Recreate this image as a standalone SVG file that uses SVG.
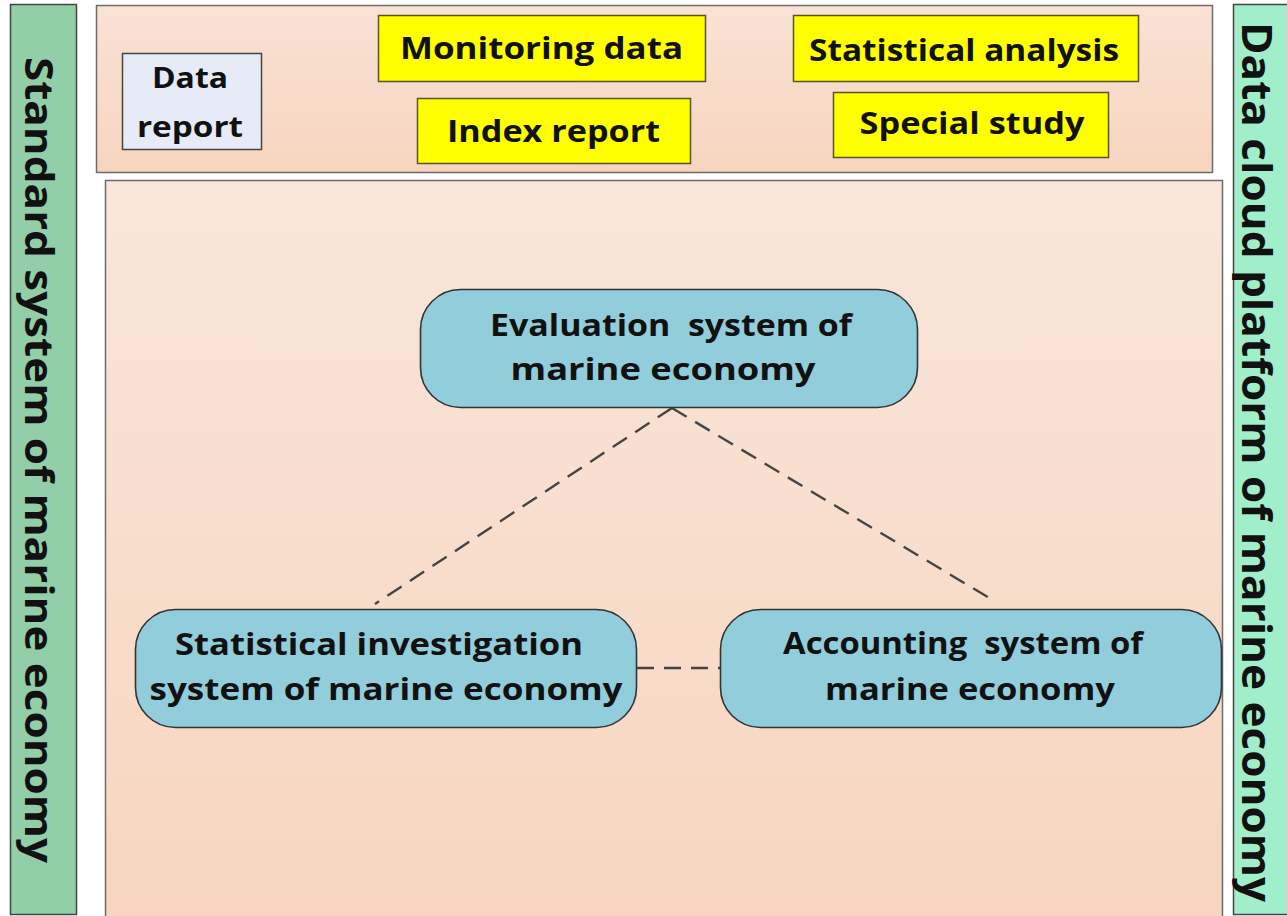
<svg xmlns="http://www.w3.org/2000/svg" width="1287" height="916" viewBox="0 0 1287 916">
<defs>
<linearGradient id="gTop" x1="0" y1="0" x2="0" y2="1"><stop offset="0" stop-color="#f9e2d5"/><stop offset="1" stop-color="#f7d5bf"/></linearGradient>
<linearGradient id="gMain" x1="0" y1="0" x2="0" y2="1"><stop offset="0" stop-color="#f9e6db"/><stop offset="1" stop-color="#f7d5be"/></linearGradient>
<style>
text{font-family:"Open Sans","Noto Sans","Liberation Sans",sans-serif;font-weight:bold;fill:#111;}
.c{text-anchor:middle;}
.sys{fill:#92cddc;stroke:#333;stroke-width:1.6;}
.yel{fill:#ffff00;stroke:#55552a;stroke-width:1.5;}
.t32{font-size:31px;}
.t30{font-size:29px;}
.conn{stroke:#444;stroke-width:2.4;stroke-dasharray:17 10;fill:none;}
</style>
</defs>
<rect width="1287" height="916" fill="#ffffff"/>
<g id="left-bar">
<rect x="10.5" y="4.5" width="66" height="910" fill="#92cfa9" stroke="#444" stroke-width="1.5"/>
<text transform="translate(25,57) rotate(90)" font-size="39" textLength="806" lengthAdjust="spacingAndGlyphs">Standard system of marine economy</text>
</g>
<g id="right-bar">
<rect x="1233.5" y="4.5" width="60" height="910" fill="#a0efca" stroke="#444" stroke-width="1.5"/>
<text transform="translate(1242,22) rotate(90)" font-size="42" textLength="880" lengthAdjust="spacingAndGlyphs">Data cloud platform of marine economy</text>
</g>
<g id="top-panel">
<rect x="96.5" y="5.5" width="1116" height="167" fill="url(#gTop)" stroke="#6b6b6b" stroke-width="1.5"/>
</g>
<g id="main-panel">
<rect x="105.5" y="180.5" width="1117" height="740" fill="url(#gMain)" stroke="#6b6b6b" stroke-width="1.5"/>
</g>
<g id="data-report">
<rect x="122.5" y="53.5" width="139" height="96" fill="#e6ebf7" stroke="#444" stroke-width="1.5"/>
<text class="c t30" x="190" y="88" textLength="76" lengthAdjust="spacingAndGlyphs">Data</text>
<text class="c t30" x="190" y="137" textLength="106" lengthAdjust="spacingAndGlyphs">report</text>
</g>
<g id="monitoring-data">
<rect class="yel" x="378.5" y="15.5" width="327" height="66"/>
<text class="c t32" x="541.5" y="59" textLength="283" lengthAdjust="spacingAndGlyphs">Monitoring data</text>
</g>
<g id="index-report">
<rect class="yel" x="417.5" y="98.5" width="273" height="65"/>
<text class="c t32" x="553.5" y="142" textLength="213" lengthAdjust="spacingAndGlyphs">Index report</text>
</g>
<g id="statistical-analysis">
<rect class="yel" x="793.5" y="15.5" width="345" height="66"/>
<text class="c t32" x="964" y="61" textLength="310" lengthAdjust="spacingAndGlyphs">Statistical analysis</text>
</g>
<g id="special-study">
<rect class="yel" x="833.5" y="92.5" width="275" height="65"/>
<text class="c t32" x="972" y="134" textLength="225" lengthAdjust="spacingAndGlyphs">Special study</text>
</g>
<g id="connectors">
<line class="conn" x1="672" y1="408" x2="375" y2="604"/>
<line class="conn" x1="672" y1="408" x2="996" y2="602"/>
<line class="conn" x1="637" y1="668" x2="720" y2="668"/>
</g>
<g id="evaluation">
<rect class="sys" x="420.5" y="289.5" width="497" height="118" rx="40"/>
<text class="c t32" x="671" y="336" textLength="362" lengthAdjust="spacingAndGlyphs" xml:space="preserve">Evaluation  system of</text>
<text class="c t32" x="663" y="380" textLength="305" lengthAdjust="spacingAndGlyphs">marine economy</text>
</g>
<g id="statistical-investigation">
<rect class="sys" x="135.5" y="609.5" width="501" height="118" rx="40"/>
<text class="c t32" x="379" y="655" textLength="408" lengthAdjust="spacingAndGlyphs">Statistical investigation</text>
<text class="c t32" x="386" y="700" textLength="473" lengthAdjust="spacingAndGlyphs">system of marine economy</text>
</g>
<g id="accounting">
<rect class="sys" x="720.5" y="609.5" width="501" height="118" rx="40"/>
<text class="c t32" x="963" y="654" textLength="360" lengthAdjust="spacingAndGlyphs" xml:space="preserve">Accounting  system of</text>
<text class="c t32" x="970" y="700" textLength="290" lengthAdjust="spacingAndGlyphs">marine economy</text>
</g>
</svg>
